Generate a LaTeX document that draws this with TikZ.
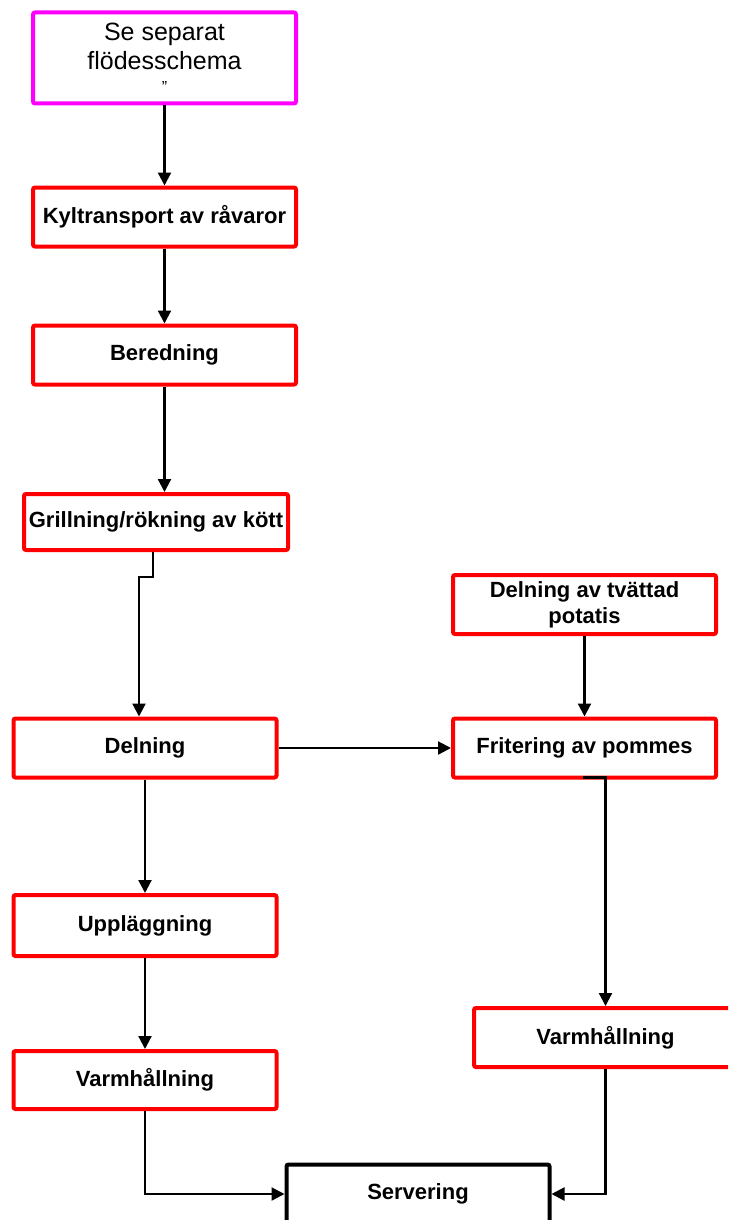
\documentclass[tikz,border=0pt]{standalone}
\usepackage{fontspec}
\setmainfont{Liberation Sans}
\usepackage{tikz}
\usetikzlibrary{arrows.meta}
\definecolor{srcpink}{RGB}{255,0,255}

\begin{document}
\begin{tikzpicture}[x=1pt,y=-1pt,
  every node/.style={font=\fontsize{22}{26}\selectfont\bfseries},
  block/.style={draw=red, line width=4pt, rounded corners=2pt, align=center, fill=white, minimum width=263pt, minimum height=59pt, inner sep=0pt},
  line/.style={-{Triangle[length=13pt,width=13pt]}, line width=2.2pt}]
  \useasboundingbox (0,0) rectangle (728,1220);
  \clip (0,0) rectangle (728,1220);
  % left column
  \node[block,draw=srcpink,minimum height=91pt,font=\fontsize{25}{29}\selectfont] (src) at (164.5,58) {Se separat\\flödesschema\\[-6pt]{\fontsize{16}{16}\selectfont ”}};
  \node[block] (kyl) at (164.5,217) {Kyltransport av råvaror};
  \node[block] (bered) at (164.5,355) {Beredning};
  \node[block,minimum width=264pt,minimum height=56pt] (grill) at (156,522) {Grillning/rökning av kött};
  \node[block] (deln) at (145,748) {Delning};
  \node[block,minimum height=61pt] (uppl) at (145,925.5) {Uppläggning};
  \node[block,minimum height=58pt] (varmL) at (145,1080) {Varmhållning};
  % right column
  \node[block] (potatis) at (584.5,604.5) {Delning av tvättad\\potatis};
  \node[block] (frit) at (584.5,748) {Fritering av pommes};
  \node[block] (varmR) at (605.5,1037.5) {Varmhållning};
  \node[block,draw=black] (serv) at (418,1194) {Servering};
  % jogs
  \coordinate (gx) at (153,577);
  \coordinate (gjog) at (139,577);
  \coordinate (fx) at (583,0);
  \draw[line] (src) -- (kyl);
  \draw[line] (kyl) -- (bered);
  \draw[line] (bered.south) -- (bered.south |- grill.north);
  \draw[line] (grill.south -| gx) -- (gx) -- (gjog) -- (gjog |- deln.north);
  \draw[line] (deln) -- (frit);
  \draw[line] (potatis) -- (frit);
  \draw[line] ([yshift=2pt]frit.south -| fx) -| (varmR.north);
  \draw[line] (deln) -- (uppl);
  \draw[line] (uppl) -- (varmL);
  \draw[line] (varmL.south) |- (serv.west);
  \draw[line] (varmR.south) |- (serv.east);
\end{tikzpicture}
\end{document}
